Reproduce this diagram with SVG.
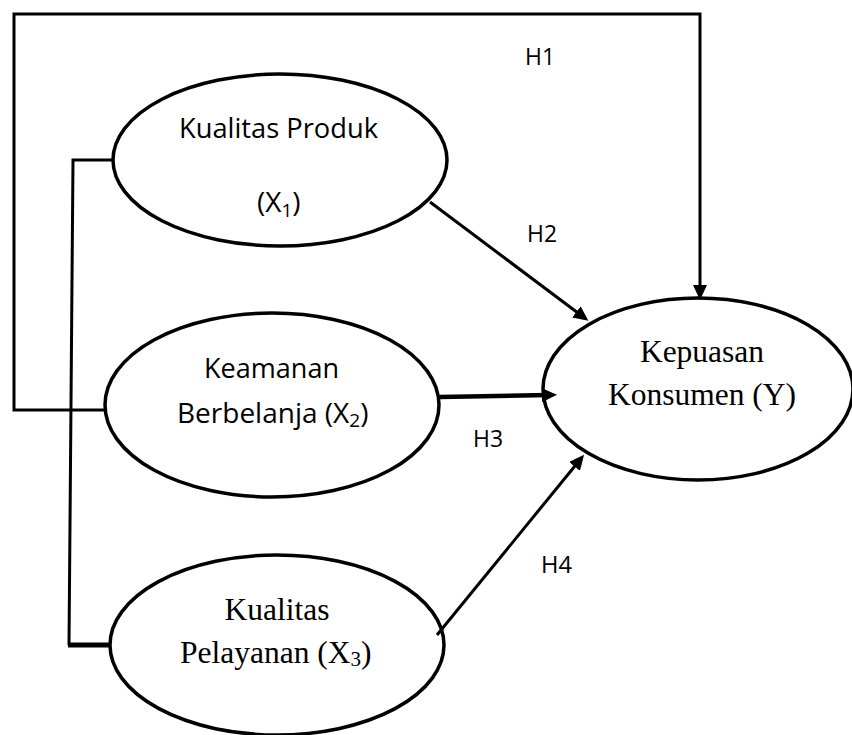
<svg xmlns="http://www.w3.org/2000/svg" width="852" height="735" viewBox="0 0 852 735">
<style>
.node{fill:#fff;stroke:#000;stroke-width:3.5}
.ln{fill:none;stroke:#000;stroke-width:3}
.cal{font-family:"Open Sans","Liberation Sans",sans-serif;font-size:28px;fill:#000}
.hl{font-family:"Open Sans","Liberation Sans",sans-serif;font-size:24px;fill:#000}
.tnr{font-family:"Liberation Serif","Times New Roman",serif;font-size:31.5px;fill:#000}
</style>
<defs>
<marker id="ah" viewBox="0 0 15 14" refX="7" refY="7" markerWidth="15" markerHeight="14" markerUnits="userSpaceOnUse" orient="auto">
<path d="M0,0 L15,7 L0,14 z" fill="#000"/>
</marker>
</defs>
<rect width="852" height="735" fill="#fff"/>
<g id="x1">
<ellipse class="node" cx="280" cy="160" rx="167" ry="86"/>
<text class="cal" x="179" y="138" textLength="199" lengthAdjust="spacingAndGlyphs">Kualitas Produk</text>
<text class="cal" x="257" y="212">(X<tspan font-size="19" dy="5">1</tspan><tspan dy="-5">)</tspan></text>
</g>
<g id="x2">
<ellipse class="node" cx="272" cy="405" rx="167" ry="92"/>
<text class="cal" x="204" y="378" textLength="135" lengthAdjust="spacingAndGlyphs">Keamanan</text>
<text class="cal" x="177" y="423">Berbelanja (X<tspan font-size="19" dy="4">2</tspan><tspan dy="-4">)</tspan></text>
</g>
<g id="x3">
<ellipse class="node" cx="277" cy="645" rx="167" ry="90"/>
<text class="tnr" x="277" y="620" text-anchor="middle">Kualitas</text>
<text class="tnr" x="180" y="663">Pelayanan (X<tspan font-size="21" dy="3">3</tspan><tspan dy="-3">)</tspan></text>
</g>
<g id="y">
<ellipse class="node" cx="698" cy="389" rx="155" ry="91"/>
<text class="tnr" x="702" y="362" text-anchor="middle">Kepuasan</text>
<text class="tnr" x="702" y="405" text-anchor="middle">Konsumen (Y)</text>
</g>
<g id="connectors">
<path class="ln" d="M106,410 H14 V14 H700 V292" marker-end="url(#ah)"/>
<path class="ln" d="M113,160 H73 L69,645"/>
<path class="ln" d="M68,645 H110" style="stroke-width:5"/>
<line class="ln" x1="430" y1="202" x2="582" y2="316" marker-end="url(#ah)"/>
<line class="ln" x1="440" y1="397" x2="549" y2="395" style="stroke-width:4.5" marker-end="url(#ah)"/>
<line class="ln" x1="437" y1="635" x2="579" y2="461" marker-end="url(#ah)"/>
</g>
<g id="labels">
<text class="hl" x="525" y="65" textLength="30" lengthAdjust="spacingAndGlyphs">H1</text>
<text class="hl" x="527" y="242" textLength="30" lengthAdjust="spacingAndGlyphs">H2</text>
<text class="hl" x="473" y="447" textLength="30" lengthAdjust="spacingAndGlyphs">H3</text>
<text class="hl" x="541" y="573" textLength="31" lengthAdjust="spacingAndGlyphs">H4</text>
</g>
</svg>
